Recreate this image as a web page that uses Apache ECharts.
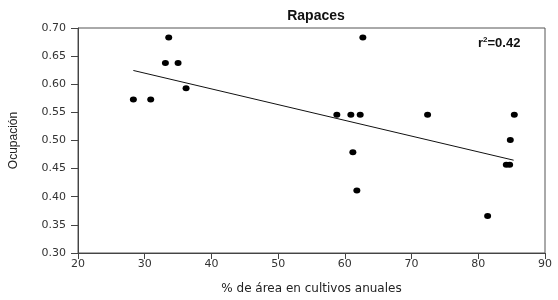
<!DOCTYPE html>
<html>
<head>
<meta charset="utf-8">
<script src="https://cdn.jsdelivr.net/npm/echarts@6/dist/echarts.min.js"></script>
<style>
  html, body { margin: 0; padding: 0; background: #fff; }
  #chart { width: 558px; height: 300px; }
</style>
</head>
<body>
<div id="chart"></div>
<script>
// % área en cultivos anuales vs ocupación
const areaPct = [28.3, 30.9, 33.1, 33.6, 35.0, 36.2, 58.8, 60.9, 61.2, 61.8, 62.3, 62.7, 72.4, 81.4, 84.2, 84.7, 84.8, 85.4]
const ocupacion = [0.573, 0.573, 0.638, 0.683, 0.638, 0.593, 0.546, 0.546, 0.479, 0.411, 0.546, 0.683, 0.546, 0.366, 0.457, 0.457, 0.501, 0.546]

// fitted line end points
const fitX = [28.3, 85.3]
const fitY = [0.6245, 0.465]

const points = areaPct.map((x, i) => [x, ocupacion[i]])
const fitLine = fitX.map((x, i) => [x, fitY[i]])

const chart = echarts.init(document.getElementById('chart'))
chart.setOption({
    animation: false,
    title: {
        text: 'Rapaces',
        left: 311,
        top: 4,
        textAlign: 'center',
        textStyle: { fontFamily: 'Liberation Sans', fontSize: 14, fontWeight: 'bold', color: '#111' }
    },
    grid: {
        left: 76, right: 13, top: 28, bottom: 43,
        show: true,
        borderColor: '#555',
        borderWidth: 1
    },
    xAxis: {
        type: 'value',
        min: 20, max: 90, interval: 10,
        name: '% de área en cultivos anuales',
        nameLocation: 'middle',
        nameGap: 30,
        nameTextStyle: { fontFamily: 'DejaVu Sans', fontSize: 12, color: '#222' },
        axisLine: { lineStyle: { color: '#444' } },
        axisTick: { show: true, length: 6, lineStyle: { color: '#444' } },
        axisLabel: { fontFamily: 'DejaVu Sans', fontSize: 11, color: '#333', margin: 6 },
        splitLine: { show: false }
    },
    yAxis: {
        type: 'value',
        min: 0.30, max: 0.70, interval: 0.05,
        name: 'Ocupación',
        nameLocation: 'middle',
        nameGap: 58,
        nameTextStyle: { fontFamily: 'Liberation Sans', fontSize: 12, color: '#222' },
        axisLine: { show: true, lineStyle: { color: '#444' } },
        axisTick: { show: true, length: 7, lineStyle: { color: '#444' } },
        axisLabel: {
            fontFamily: 'DejaVu Sans', fontSize: 11, color: '#333', margin: 12,
            formatter: v => v.toFixed(2)
        },
        splitLine: { show: false }
    },
    graphic: [
        {
            type: 'text',
            left: 478,
            top: 36,
            style: {
                text: 'r{sup|2}=0.42',
                font: 'bold 13px "Liberation Sans"',
                fill: '#111',
                rich: {
                    sup: { font: 'bold 8px "Liberation Sans"', verticalAlign: 'top', padding: [0, 0, 6, 0] }
                }
            }
        }
    ],
    series: [
        {
            type: 'line',
            data: fitLine,
            symbol: 'none',
            lineStyle: { color: '#111', width: 1 },
            z: 1
        },
        {
            type: 'scatter',
            data: points,
            symbol: 'circle',
            symbolSize: [7, 6],
            itemStyle: { color: '#000', opacity: 1 },
            z: 2
        }
    ]
})
</script>
</body>
</html>
